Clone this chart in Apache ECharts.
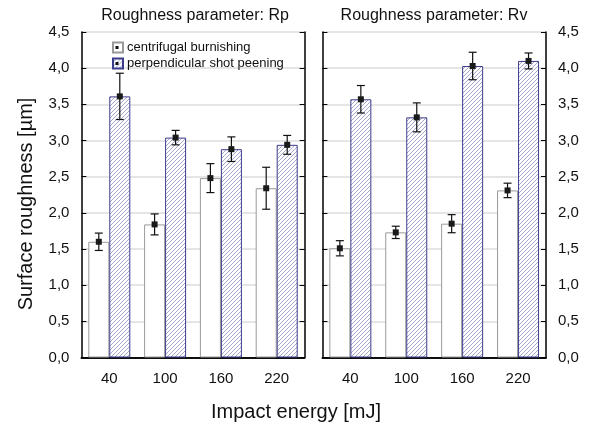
<!DOCTYPE html>
<html>
<head>
<meta charset="utf-8">
<script src="https://cdn.jsdelivr.net/npm/echarts@6/dist/echarts.min.js"></script>
<style>
html,body{margin:0;padding:0;background:#fff;}
#c{width:590px;height:425px;}
</style>
</head>
<body>
<div id="c"></div>
<script>
// ---- data ----
const categories = ['40', '100', '160', '220'];
const rpCentrifugal    = [1.60, 1.84, 2.48, 2.34];
const rpCentrifugalErr = [0.12, 0.145, 0.20, 0.29];
const rpShot           = [3.61, 3.04, 2.88, 2.94];
const rpShotErr        = [0.32, 0.10, 0.17, 0.13];
const rvCentrifugal    = [1.51, 1.73, 1.85, 2.31];
const rvCentrifugalErr = [0.105, 0.085, 0.125, 0.10];
const rvShot           = [3.57, 3.32, 4.03, 4.10];
const rvShotErr        = [0.19, 0.20, 0.19, 0.11];
const seriesNames = ['centrifugal burnishing', 'perpendicular shot peening'];
const panelTitles = ['Roughness parameter: Rp', 'Roughness parameter: Rv'];
const xTitle = 'Impact energy [mJ]';
const yTitle = 'Surface roughness [µm]';

// ---- styles ----
const FONT = '"Liberation Sans", Arial, sans-serif';
function hatch() {
  const s = 4;
  const cv = document.createElement('canvas');
  cv.width = s; cv.height = s;
  const ctx = cv.getContext('2d');
  ctx.fillStyle = '#ffffff';
  ctx.fillRect(0, 0, s, s);
  ctx.strokeStyle = '#9c9cc6';
  ctx.lineWidth = 0.9;
  ctx.beginPath();
  for (const c of [0, s, 2 * s]) {
    ctx.moveTo(c + 1, -1);
    ctx.lineTo(-1, c + 1);
  }
  ctx.stroke();
  return cv;
}
const hatchFill = { image: hatch(), repeat: 'repeat' };
const cbStyle = { color: '#ffffff', borderColor: '#9a9a9a', borderWidth: 1 };
const pspStyle = { color: hatchFill, borderColor: '#3c3c8c', borderWidth: 1 };

const grids = [
  { left: 81.4, top: 32, width: 223.2, height: 325.5 },
  { left: 322.4, top: 32, width: 223.6, height: 325.5 }
];

const fmt = v => v.toFixed(1).replace('.', ',');
const lineStyle = { color: '#000', width: 1.5 };

const xAxes = [], yAxes = [];
[0, 1].forEach(g => {
  xAxes.push({
    type: 'category', gridIndex: g, data: categories, position: 'bottom',
    boundaryGap: true,
    axisLine: { lineStyle },
    axisTick: { inside: true, alignWithLabel: true, length: 5, lineStyle: { color: '#000', width: 1.5 } },
    axisLabel: { fontSize: 15, fontFamily: FONT, color: '#111', margin: 14 },
    splitLine: { show: false }
  });
  xAxes.push({
    type: 'category', gridIndex: g, data: categories, position: 'top',
    boundaryGap: true,
    axisLine: { lineStyle },
    axisTick: { inside: true, alignWithLabel: true, length: 5, lineStyle: { color: '#000', width: 1 } },
    axisLabel: { show: false },
    splitLine: { show: false }
  });
  const labelSide = g === 0 ? 'left' : 'right';
  const otherSide = g === 0 ? 'right' : 'left';
  yAxes.push({
    type: 'value', gridIndex: g, position: labelSide, min: 0, max: 4.5, interval: 0.5,
    axisLine: { show: true, lineStyle },
    axisTick: { show: true, inside: true, length: 5, lineStyle: { color: '#000', width: 1 } },
    axisLabel: { fontSize: 15, fontFamily: FONT, color: '#111', margin: 12, formatter: fmt },
    splitLine: { show: true, lineStyle: { color: '#dcdcdc', width: 1.5 } }
  });
  yAxes.push({
    type: 'value', gridIndex: g, position: otherSide, min: 0, max: 4.5, interval: 0.5,
    axisLine: { show: true, lineStyle },
    axisTick: { show: true, inside: true, length: 5, lineStyle: { color: '#000', width: 1 } },
    axisLabel: { show: false },
    splitLine: { show: false }
  });
});

function errData(vals, errs) {
  return vals.map((v, i) => [i, v, errs[i]]);
}
function errSeries(xi, yi, vals, errs, offset) {
  return {
    type: 'custom', xAxisIndex: xi, yAxisIndex: yi, z: 10,
    data: errData(vals, errs),
    encode: { x: 0, y: 1 },
    silent: true,
    renderItem: function (params, api) {
      const i = api.value(0), v = api.value(1), e = api.value(2);
      const c = api.coord([i, v]);
      const top = api.coord([i, v + e]);
      const bot = api.coord([i, v - e]);
      const x = c[0] + offset;
      const cap = 4;
      const st = { stroke: '#111', lineWidth: 1.2 };
      return {
        type: 'group',
        children: [
          { type: 'line', shape: { x1: x, y1: top[1], x2: x, y2: bot[1] }, style: st },
          { type: 'line', shape: { x1: x - cap, y1: top[1], x2: x + cap, y2: top[1] }, style: st },
          { type: 'line', shape: { x1: x - cap, y1: bot[1], x2: x + cap, y2: bot[1] }, style: st },
          { type: 'rect', shape: { x: x - 3, y: c[1] - 3, width: 6, height: 6 }, style: { fill: '#1a1a1a' } }
        ]
      };
    }
  };
}

const series = [
  { name: seriesNames[0], type: 'bar', xAxisIndex: 0, yAxisIndex: 0, data: rpCentrifugal, barWidth: 21, barGap: '0%', itemStyle: cbStyle, z: 3 },
  { name: seriesNames[1], type: 'bar', xAxisIndex: 0, yAxisIndex: 0, data: rpShot, barWidth: 21, barGap: '0%', itemStyle: pspStyle, z: 3 },
  { name: seriesNames[0], type: 'bar', xAxisIndex: 2, yAxisIndex: 2, data: rvCentrifugal, barWidth: 21, barGap: '0%', itemStyle: cbStyle, z: 3 },
  { name: seriesNames[1], type: 'bar', xAxisIndex: 2, yAxisIndex: 2, data: rvShot, barWidth: 21, barGap: '0%', itemStyle: pspStyle, z: 3 },
  errSeries(0, 0, rpCentrifugal, rpCentrifugalErr, -10.5),
  errSeries(0, 0, rpShot, rpShotErr, 10.5),
  errSeries(2, 2, rvCentrifugal, rvCentrifugalErr, -10.5),
  errSeries(2, 2, rvShot, rvShotErr, 10.5)
];

const legendCommon = {
  orient: 'vertical', icon: 'rect', itemWidth: 10, itemHeight: 10, itemGap: 4,
  textStyle: { fontSize: 13, fontFamily: FONT, color: '#111', padding: [0, 0, 0, -1] },
  selectedMode: false, padding: 0
};

const chart = echarts.init(document.getElementById('c'), null, { renderer: 'canvas' });
chart.setOption({
  animation: false,
  backgroundColor: '#fff',
  grid: grids,
  xAxis: xAxes,
  yAxis: yAxes,
  legend: [
    Object.assign({ left: 112, top: 41, data: [seriesNames[0]] }, legendCommon),
    Object.assign({ left: 112, top: 57, data: [seriesNames[1]] }, legendCommon)
  ],
  series: series,
  graphic: [
    { type: 'text', x: 195, y: 16, style: { text: panelTitles[0], font: '16px ' + FONT, fill: '#111', textAlign: 'center', textVerticalAlign: 'middle' } },
    { type: 'text', x: 434, y: 16, style: { text: panelTitles[1], font: '16px ' + FONT, fill: '#111', textAlign: 'center', textVerticalAlign: 'middle' } },
    { type: 'text', x: 296, y: 412, style: { text: xTitle, font: '20px ' + FONT, fill: '#111', textAlign: 'center', textVerticalAlign: 'middle' } },
    { type: 'text', x: 26, y: 204, rotation: Math.PI / 2, style: { text: yTitle, font: '20px ' + FONT, fill: '#111', textAlign: 'center', textVerticalAlign: 'middle' } },
    { type: 'rect', z: 100, shape: { x: 115.5, y: 46, width: 3, height: 3 }, style: { fill: '#111' } },
    { type: 'rect', z: 100, shape: { x: 115.5, y: 62, width: 3, height: 3 }, style: { fill: '#111' } }
  ]
});
</script>
</body>
</html>
